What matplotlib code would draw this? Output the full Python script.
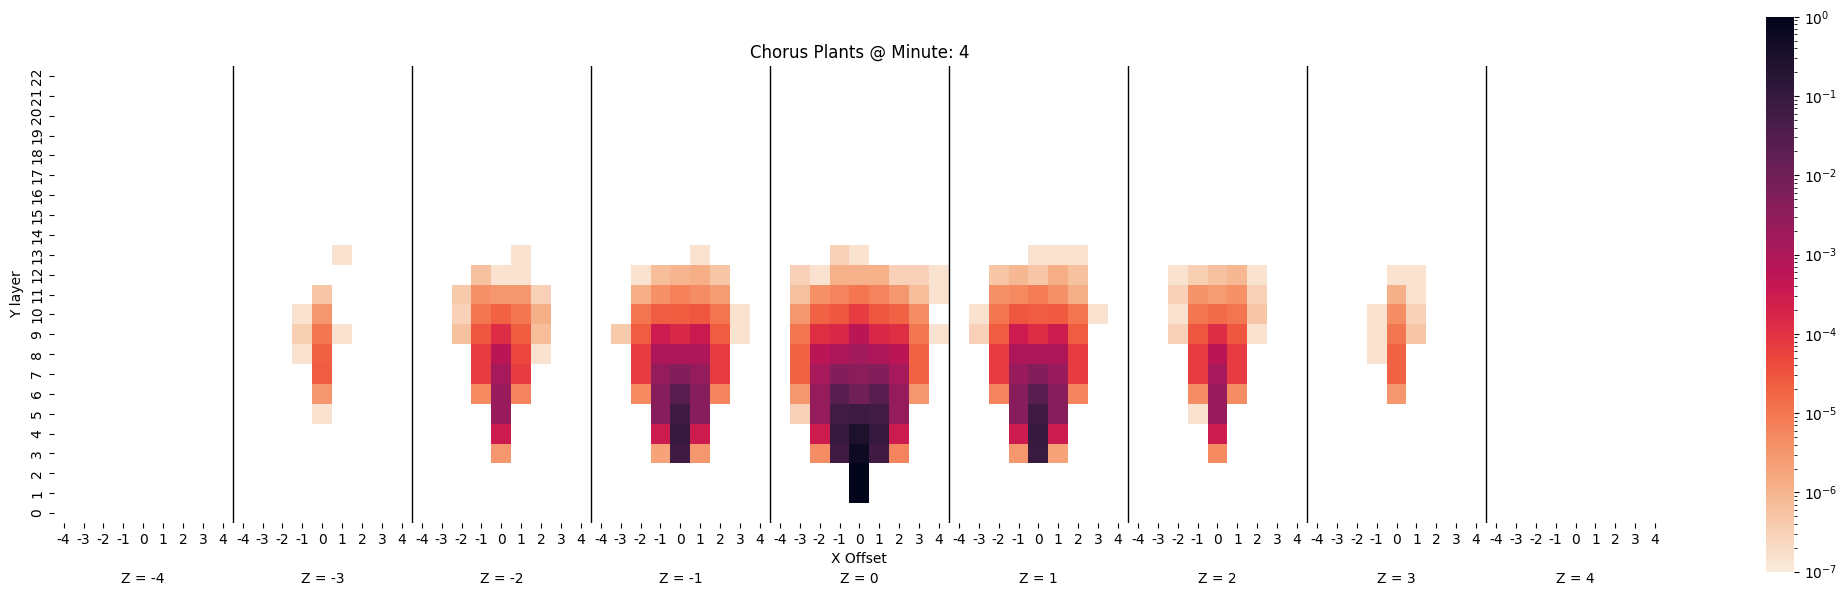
from __future__ import annotations

import matplotlib

matplotlib.use("Agg")

import matplotlib.pyplot as plt
import numpy as np
import seaborn as sns
from matplotlib.colors import LogNorm
from matplotlib.transforms import blended_transform_factory


X_OFFSETS = [-4, -3, -2, -1, 0, 1, 2, 3, 4]
Y_LAYERS = list(range(23))
Z_SLICES = [-4, -3, -2, -1, 0, 1, 2, 3, 4]

# share of plants per cell, keyed by y layer, one value per x offset (-4 to 4)
Z_M4 = {}
Z_M3 = {
    13: [0, 0, 0, 0, 0, 1.5e-7, 0, 0, 0],
    11: [0, 0, 0, 0, 5e-7, 0, 0, 0, 0],
    10: [0, 0, 0, 1.5e-7, 3e-6, 0, 0, 0, 0],
    9: [0, 0, 0, 3.5e-7, 1e-5, 1.5e-7, 0, 0, 0],
    8: [0, 0, 0, 1.5e-7, 2.2e-5, 0, 0, 0, 0],
    7: [0, 0, 0, 0, 2.4e-5, 0, 0, 0, 0],
    6: [0, 0, 0, 0, 3e-6, 0, 0, 0, 0],
    5: [0, 0, 0, 0, 1.5e-7, 0, 0, 0, 0],
}
Z_M2 = {
    13: [0, 0, 0, 0, 0, 1.5e-7, 0, 0, 0],
    12: [0, 0, 0, 6e-7, 1.5e-7, 1.5e-7, 0, 0, 0],
    11: [0, 0, 4e-7, 4e-6, 3e-6, 3e-6, 3e-7, 0, 0],
    10: [0, 0, 3e-7, 1e-5, 2e-5, 1e-5, 1.2e-6, 0, 0],
    9: [0, 0, 6e-7, 3e-5, 1.3e-4, 2.3e-5, 7e-7, 0, 0],
    8: [0, 0, 0, 7e-5, 6e-4, 5e-5, 1.5e-7, 0, 0],
    7: [0, 0, 0, 7e-5, 1.3e-3, 7e-5, 0, 0, 0],
    6: [0, 0, 0, 5e-6, 2.2e-3, 6e-6, 0, 0, 0],
    5: [0, 0, 0, 0, 2e-3, 0, 0, 0, 0],
    4: [0, 0, 0, 0, 3e-4, 0, 0, 0, 0],
    3: [0, 0, 0, 0, 3e-6, 0, 0, 0, 0],
}
Z_M1 = {
    13: [0, 0, 0, 0, 0, 1.5e-7, 0, 0, 0],
    12: [0, 0, 1.5e-7, 7e-7, 1e-6, 1.3e-6, 5e-7, 0, 0],
    11: [0, 0, 1.3e-6, 4e-6, 7e-6, 4.5e-6, 2.5e-6, 0, 0],
    10: [0, 0, 1e-5, 2.5e-5, 2.3e-5, 3e-5, 1e-5, 1.5e-7, 0],
    9: [0, 4e-7, 2.5e-5, 3e-4, 1.5e-4, 3.5e-4, 2.5e-5, 1.5e-7, 0],
    8: [0, 0, 7e-5, 1e-3, 1e-3, 1e-3, 7e-5, 0, 0],
    7: [0, 0, 7e-5, 2.5e-3, 5e-3, 2.5e-3, 7e-5, 0, 0],
    6: [0, 0, 5e-6, 4e-3, 2.5e-2, 4e-3, 6e-6, 0, 0],
    5: [0, 0, 0, 4e-3, 7e-2, 4e-3, 0, 0, 0],
    4: [0, 0, 0, 3e-4, 1e-1, 3e-4, 0, 0, 0],
    3: [0, 0, 0, 2e-6, 7e-2, 3e-6, 0, 0, 0],
}
Z_0 = {
    13: [0, 0, 0, 3e-7, 1.5e-7, 0, 0, 0, 0],
    12: [0, 3e-7, 1.5e-7, 1.1e-6, 1.1e-6, 1.1e-6, 3e-7, 3e-7, 1.5e-7],
    11: [0, 6e-7, 4e-6, 6e-6, 1e-5, 6e-6, 3e-6, 7e-7, 1.5e-7],
    10: [0, 3e-6, 2e-5, 3e-5, 7e-5, 3e-5, 2e-5, 4.5e-6, 0],
    9: [0, 1e-5, 1.2e-4, 1.6e-4, 6e-4, 1.6e-4, 1.2e-4, 1e-5, 1.5e-7],
    8: [0, 2e-5, 6e-4, 1e-3, 1.6e-3, 1e-3, 6e-4, 2e-5, 0],
    7: [0, 2e-5, 1.3e-3, 5e-3, 3.5e-3, 5e-3, 1.3e-3, 2e-5, 0],
    6: [0, 3e-6, 2.5e-3, 2.5e-2, 1e-2, 2.5e-2, 2.5e-3, 3e-6, 0],
    5: [0, 3e-7, 2.5e-3, 6e-2, 8e-2, 6e-2, 2.5e-3, 0, 0],
    4: [0, 0, 3e-4, 1e-1, 3e-1, 1e-1, 3e-4, 0, 0],
    3: [0, 0, 4.5e-6, 7e-2, 6e-1, 7e-2, 6e-6, 0, 0],
    2: [0, 0, 0, 0, 1.0, 0, 0, 0, 0],
    1: [0, 0, 0, 0, 1.0, 0, 0, 0, 0],
}
Z_P1 = {
    13: [0, 0, 0, 0, 1.5e-7, 1.5e-7, 1.5e-7, 0, 0],
    12: [0, 0, 5e-7, 9e-7, 5e-7, 1.3e-6, 6e-7, 0, 0],
    11: [0, 0, 4e-6, 5e-6, 8e-6, 4e-6, 1.2e-6, 0, 0],
    10: [0, 1.5e-7, 1e-5, 3e-5, 2.5e-5, 2.7e-5, 1e-5, 1.5e-7, 0],
    9: [0, 3e-7, 2.5e-5, 3e-4, 1.3e-4, 3e-4, 2.5e-5, 0, 0],
    8: [0, 0, 7e-5, 1e-3, 1e-3, 1e-3, 7e-5, 0, 0],
    7: [0, 0, 7e-5, 2.2e-3, 5e-3, 2.2e-3, 7e-5, 0, 0],
    6: [0, 0, 6e-6, 4e-3, 2.5e-2, 4e-3, 6e-6, 0, 0],
    5: [0, 0, 0, 4e-3, 7e-2, 4e-3, 0, 0, 0],
    4: [0, 0, 0, 3e-4, 1e-1, 3e-4, 0, 0, 0],
    3: [0, 0, 0, 3e-6, 9e-2, 2e-6, 0, 0, 0],
}
Z_P2 = {
    12: [0, 0, 1.5e-7, 3.5e-7, 6e-7, 9e-7, 1.5e-7, 0, 0],
    11: [0, 0, 3e-7, 3.5e-6, 2.5e-6, 4e-6, 3e-7, 0, 0],
    10: [0, 0, 1.5e-7, 1e-5, 1.5e-5, 1.1e-5, 5e-7, 0, 0],
    9: [0, 0, 3e-7, 3e-5, 1.3e-4, 3e-5, 1.5e-7, 0, 0],
    8: [0, 0, 0, 7e-5, 6e-4, 7e-5, 0, 0, 0],
    7: [0, 0, 0, 7e-5, 1.3e-3, 7e-5, 0, 0, 0],
    6: [0, 0, 0, 4.5e-6, 2.2e-3, 4.5e-6, 0, 0, 0],
    5: [0, 0, 0, 1.5e-7, 2e-3, 0, 0, 0, 0],
    4: [0, 0, 0, 0, 3e-4, 0, 0, 0, 0],
    3: [0, 0, 0, 0, 5e-6, 0, 0, 0, 0],
}
Z_P3 = {
    12: [0, 0, 0, 0, 1.5e-7, 1.5e-7, 0, 0, 0],
    11: [0, 0, 0, 0, 1.2e-6, 1.5e-7, 0, 0, 0],
    10: [0, 0, 0, 1.5e-7, 4.5e-6, 3e-7, 0, 0, 0],
    9: [0, 0, 0, 1.5e-7, 1e-5, 5e-7, 0, 0, 0],
    8: [0, 0, 0, 1.5e-7, 2e-5, 0, 0, 0, 0],
    7: [0, 0, 0, 0, 2e-5, 0, 0, 0, 0],
    6: [0, 0, 0, 0, 3e-6, 0, 0, 0, 0],
}
Z_P4 = {}
PANELS = [Z_M4, Z_M3, Z_M2, Z_M1, Z_0, Z_P1, Z_P2, Z_P3, Z_P4]

OUTPUT_PNG = "out.png"


def build_grid() -> np.ndarray:
    n_x = len(X_OFFSETS)
    grid = np.zeros((len(Y_LAYERS), n_x * len(Z_SLICES)))
    for index, panel in enumerate(PANELS):
        for layer, values in panel.items():
            grid[layer, index * n_x : (index + 1) * n_x] = values
    return grid


def build_chart(grid: np.ndarray) -> None:
    fig = plt.figure(figsize=(18.46, 5.96), dpi=100)
    ax = fig.add_axes([53.7 / 1846, 73 / 596, 1611.4 / 1846, 457 / 596])
    cbar_ax = fig.add_axes([1766 / 1846, 24.3 / 596, 28 / 1846, 555 / 596])

    sns.heatmap(
        grid,
        mask=grid == 0,
        cmap="rocket_r",
        norm=LogNorm(vmin=1e-7, vmax=1),
        ax=ax,
        cbar_ax=cbar_ax,
    )
    ax.invert_yaxis()

    n_x = len(X_OFFSETS)
    ax.set_xticks(np.arange(grid.shape[1]) + 0.5, X_OFFSETS * len(Z_SLICES), rotation=0)
    ax.set_yticks(np.arange(grid.shape[0]) + 0.5, Y_LAYERS, rotation=90, va="center")
    ax.set_xlabel("X Offset")
    ax.set_ylabel("Y layer")
    ax.set_title("Chorus Plants @ Minute: 4")

    for index in range(1, len(Z_SLICES)):
        ax.axvline(index * n_x, color="black", linewidth=1.0)

    # slice names sit under the shared x label
    trans = blended_transform_factory(ax.transData, ax.transAxes)
    for index, z_value in enumerate(Z_SLICES):
        ax.text(
            (index + 0.5) * n_x,
            -0.1225,
            f"Z = {z_value}",
            transform=trans,
            ha="center",
            va="center",
        )

    fig.savefig(OUTPUT_PNG, dpi=100)
    plt.close(fig)


def main() -> None:
    build_chart(build_grid())


if __name__ == "__main__":
    main()
